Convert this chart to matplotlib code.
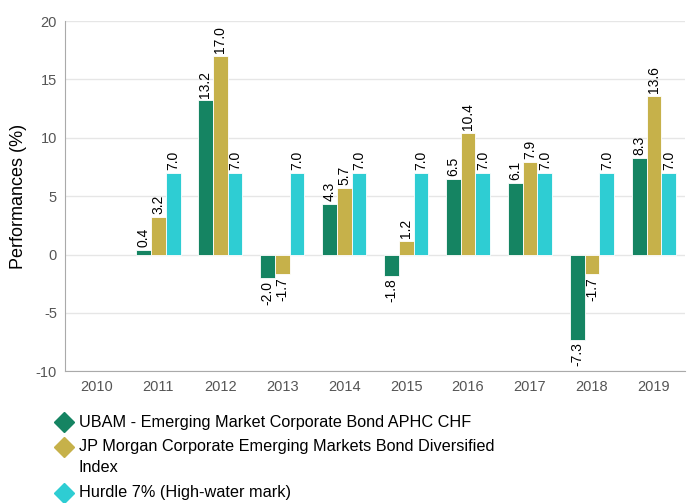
import matplotlib
matplotlib.use("Agg")
import matplotlib.pyplot as plt
from matplotlib.lines import Line2D
import numpy as np

plt.rcParams['font.family'] = ['Liberation Sans', 'DejaVu Sans']

years = ["2010", "2011", "2012", "2013", "2014", "2015", "2016", "2017", "2018", "2019"]
ubam = [None, 0.4, 13.2, -2.0, 4.3, -1.8, 6.5, 6.1, -7.3, 8.3]
jpm = [None, 3.2, 17.0, -1.7, 5.7, 1.2, 10.4, 7.9, -1.7, 13.6]
hurdle = [None, 7.0, 7.0, 7.0, 7.0, 7.0, 7.0, 7.0, 7.0, 7.0]
series_names = ["UBAM - Emerging Market Corporate Bond APHC CHF",
                "JP Morgan Corporate Emerging Markets Bond Diversified\nIndex",
                "Hurdle 7% (High-water mark)"]
colors = ["#158462", "#c6b14a", "#2ecdd3"]

W, H = 687, 503
fig = plt.figure(figsize=(W / 100, H / 100), dpi=100)
ax = fig.add_axes([0.095, 0.262, 0.902, 0.696])

x = np.arange(len(years))
w = 0.24
for i, (vals, c) in enumerate(zip([ubam, jpm, hurdle], colors)):
    off = (i - 1) * w
    for xi, v in zip(x, vals):
        if v is None:
            continue
        ax.bar(xi + off, v, width=w, color=c, edgecolor="white", linewidth=0.6, zorder=3)
        if v >= 0:
            ax.text(xi + off, v + 0.25, f"{v:.1f}", rotation=90, ha="center", va="bottom",
                    fontsize=10, color="black", zorder=4)
        else:
            ax.text(xi + off, v - 0.25, f"{v:.1f}", rotation=90, ha="center", va="top",
                    fontsize=10, color="black", zorder=4)

ax.set_xlim(-0.5, len(years) - 0.5)
ax.set_ylim(-10, 20)
ax.set_yticks([-10, -5, 0, 5, 10, 15, 20])
ax.set_yticklabels(["-10", "-5", "0", "5", "10", "15", "20"])
ax.set_xticks(x)
ax.set_xticklabels(years)
ax.tick_params(axis="both", length=0, labelsize=10.5, labelcolor="#555555", pad=6)
ax.grid(axis="y", color="#e6e6e6", linewidth=1, zorder=0)
ax.set_axisbelow(True)
for s in ["top", "right"]:
    ax.spines[s].set_visible(False)
for s in ["left", "bottom"]:
    ax.spines[s].set_color("#aaaaaa")
ax.set_ylabel("Performances (%)", fontsize=13, color="black", labelpad=6)

# Manual legend (pixel layout)
marker_x = 64
text_x = 79
y = 422
line_step = 21
entry_step = 25
for name, c in zip(series_names, colors):
    lines = name.split("\n")
    fig.add_artist(Line2D([marker_x / W], [1 - y / H], marker="D", linestyle="none",
                          markersize=10, color=c, transform=fig.transFigure))
    for k, ln in enumerate(lines):
        fig.text(text_x / W, 1 - (y + k * line_step) / H, ln, ha="left", va="center",
                 fontsize=11.7, color="black")
    y += (len(lines) - 1) * line_step + entry_step

fig.savefig("out.png", dpi=100)
